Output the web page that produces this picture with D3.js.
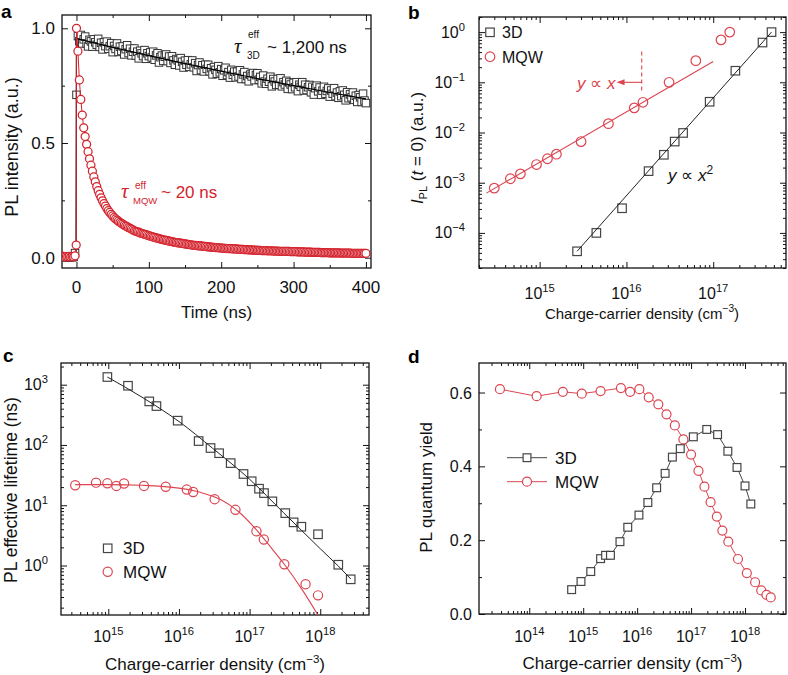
<!DOCTYPE html>
<html>
<head>
<meta charset="utf-8">
<script src="https://cdn.jsdelivr.net/npm/d3@7/dist/d3.min.js"></script>
<style>
  html,body{margin:0;padding:0;background:#fff;}
  svg{display:block;font-family:"Liberation Sans",Arial,Helvetica,sans-serif;}
</style>
</head>
<body>
<svg id="fig" width="788" height="675"></svg>
<script>
// ================= DATA =================
// Panel a: PL transients, sampled from -20 ns to 400 ns every 2 ns
const timeStart = -20;
const timeStep = 2;
const decay3D = [
 0.003,0.002,0.004,0.002,0.003,0.001,0.004,0.002,0.003,0.020,
 0.710,
 0.966,0.944,0.971,0.934,0.952,0.964,0.934,0.921,0.950,0.943,
 0.920,0.952,0.939,0.928,0.954,0.919,0.937,0.908,0.939,0.922,
 0.942,0.911,0.922,0.935,0.896,0.923,0.910,0.934,0.897,0.920,
 0.901,0.921,0.886,0.909,0.926,0.892,0.911,0.882,0.898,0.912,
 0.881,0.898,0.869,0.902,0.891,0.879,0.905,0.867,0.891,0.879,
 0.895,0.873,0.898,0.863,0.882,0.891,0.851,0.874,0.881,0.858,
 0.876,0.886,0.857,0.877,0.849,0.878,0.860,0.841,0.866,0.860,
 0.838,0.870,0.854,0.829,0.859,0.841,0.861,0.832,0.843,0.860,
 0.830,0.848,0.814,0.840,0.851,0.818,0.839,0.812,0.841,0.823,
 0.841,0.813,0.826,0.799,0.831,0.819,0.802,0.835,0.808,0.822,
 0.793,0.817,0.828,0.796,0.809,0.785,0.819,0.797,0.811,0.786,
 0.811,0.790,0.817,0.779,0.799,0.809,0.779,0.792,0.769,0.798,
 0.790,0.805,0.774,0.796,0.804,0.776,0.788,0.760,0.794,0.768,
 0.758,0.780,0.767,0.789,0.747,0.779,0.768,0.753,0.779,0.754,
 0.782,0.747,0.765,0.755,0.771,0.736,0.764,0.755,0.735,0.762,
 0.743,0.765,0.726,0.754,0.745,0.765,0.729,0.754,0.731,0.743,
 0.753,0.721,0.745,0.711,0.739,0.750,0.725,0.742,0.710,0.728,
 0.745,0.715,0.727,0.738,0.702,0.729,0.715,0.739,0.704,0.720,
 0.697,0.725,0.704,0.729,0.710,0.686,0.721,0.695,0.712,0.699,
 0.720,0.688,0.706,0.679,0.709,0.699,0.679,0.715,0.685,0.674
];
const decayMQW = [
 0.004,0.006,0.003,0.005,0.004,0.006,0.003,0.005,0.004,0.008,
 1.000,0.900,0.775,0.690,0.622,0.566,0.528,0.494,0.462,0.431,
 0.403,0.377,0.352,0.331,0.310,0.292,0.276,0.261,0.248,0.236,
 0.225,0.214,0.205,0.197,0.189,0.182,0.175,0.169,0.164,0.159,
 0.154,0.150,0.146,0.142,0.138,0.135,0.131,0.128,0.125,0.121,
 0.117,0.115,0.113,0.111,0.108,0.106,0.104,0.102,0.100,0.098,
 0.096,0.094,0.092,0.090,0.088,0.086,0.085,0.083,0.081,0.080,
 0.078,0.077,0.075,0.074,0.072,0.071,0.070,0.068,0.067,0.066,
 0.065,0.064,0.063,0.062,0.061,0.060,0.059,0.058,0.057,0.056,
 0.055,0.054,0.054,0.053,0.052,0.051,0.051,0.050,0.049,0.049,
 0.048,0.047,0.047,0.046,0.045,0.045,0.044,0.044,0.043,0.043,
 0.042,0.042,0.041,0.041,0.040,0.040,0.039,0.039,0.038,0.038,
 0.038,0.037,0.037,0.036,0.036,0.036,0.035,0.035,0.035,0.034,
 0.034,0.034,0.033,0.033,0.033,0.032,0.032,0.032,0.031,0.031,
 0.031,0.031,0.030,0.030,0.030,0.030,0.029,0.029,0.029,0.029,
 0.028,0.028,0.028,0.028,0.027,0.027,0.027,0.027,0.026,0.026,
 0.026,0.026,0.026,0.025,0.025,0.025,0.025,0.025,0.024,0.024,
 0.024,0.024,0.024,0.023,0.023,0.023,0.023,0.023,0.023,0.022,
 0.022,0.022,0.022,0.022,0.022,0.021,0.021,0.021,0.021,0.021,
 0.021,0.021,0.020,0.020,0.020,0.020,0.020,0.020,0.020,0.020,
 0.019,0.019,0.019,0.019,0.019,0.019,0.019,0.019,0.019,0.019,
 0.019
];
const riseMQWTime = [-0.4];
const riseMQWValue = [0.055];
const fit3DTime  = [-20, -0.6, 0, 50, 100, 150, 200, 250, 300, 350, 400];
const fit3DValue = [0.003, 0.003, 0.955, 0.917, 0.881, 0.846, 0.813, 0.781, 0.750, 0.720, 0.692];
const xTicksA = [0, 100, 200, 300, 400];
const xMinorA = [50, 150, 250, 350];
const yTicksA = [0, 0.5, 1.0];
const yMinorA = [0.25, 0.75];

// Panel b: initial PL intensity vs carrier density
const densityMQWb   = [3.0e14,4.6e14,6.0e14,9.2e14,1.23e15,1.56e15,3.0e15,6.2e15,1.23e16,1.55e16,3.1e16,6.3e16,1.23e17,1.55e17];
const intensityMQWb = [7.8e-4,1.2e-3,1.5e-3,2.3e-3,3.0e-3,3.7e-3,6.6e-3,1.5e-2,3.1e-2,4.0e-2,0.10,0.27,0.70,1.0];
const density3Db    = [2.7e15,4.5e15,8.9e15,1.8e16,2.7e16,3.6e16,4.5e16,9.1e16,1.8e17,3.7e17,4.7e17];
const intensity3Db  = [4.3e-5,1.0e-4,3.1e-4,1.7e-3,3.6e-3,6.6e-3,9.8e-3,0.041,0.17,0.62,1.0];
const fitMQWbX = [2.43e14, 1.0e17];
const fitMQWbY = [6.2e-4, 0.26];
const fit3DbX  = [2.7e15, 4.7e17];
const fit3DbY  = [4.3e-5, 1.0];
const xTicksB = [1e15, 1e16, 1e17];
const yTicksB = [1e-4, 1e-3, 1e-2, 1e-1, 1];
const markerLineB = 1.5e16;   // dashed boundary of the linear regime

// Panel c: effective PL lifetime vs carrier density
const density3Dc   = [9.7e14,1.9e15,3.8e15,4.8e15,9.6e15,1.9e16,2.8e16,3.7e16,5.4e16,8.2e16,1.07e17,1.36e17,1.6e17,2.1e17,3.2e17,4.2e17,5.4e17,9.3e17,1.8e18,2.7e18];
const lifetime3Dc  = [1340,960,528,442,253,116,89,73,50,33,25,18.8,15.9,11.6,7.4,5.2,4.4,3.3,1.03,0.59];
const densityMQWc  = [3.4e14,6.7e14,9.7e14,1.3e15,1.67e15,3.2e15,6.5e15,1.29e16,1.59e16,3.2e16,6.3e16,1.25e17,1.59e17,3.1e17,6.2e17,9.3e17];
const lifetimeMQWc = [21.5,23.7,23.1,20.9,22.9,20.9,20.3,18.2,16.6,12.6,8.4,3.7,2.7,1.05,0.49,0.32];
const fit3DcX  = [9.7e14,3e15,1e16,3e16,1e17,3e17,1e18,1.8e18,2.7e18];
const fit3DcY  = [1340,620,245,88,27,7.6,1.9,0.98,0.6];
const fitMQWcX = [3.4e14,1e15,3e15,1e16,2e16,4e16,7e16,1.25e17,2e17,3.1e17,5.6e17,9.3e17,1.3e18];
const fitMQWcY = [22.0,22.0,21.4,19.2,16.4,12.2,7.8,3.9,2.0,1.05,0.39,0.15,0.077];
const xTicksC = [1e15, 1e16, 1e17, 1e18];
const yTicksC = [1, 10, 100, 1000];

// Panel d: PL quantum yield vs carrier density
const densityMQWd = [2.86e13,1.37e14,4.2e14,9.4e14,2.1e15,5.0e15,7.4e15,1.1e16,1.64e16,2.47e16,3.5e16,5.0e16,7.2e16,1.0e17,1.37e17,1.77e17,2.3e17,3.0e17,3.8e17,4.9e17,7.4e17,1.08e18,1.54e18,2.0e18,2.5e18,3.0e18];
const yieldMQWd   = [0.609,0.590,0.602,0.597,0.604,0.612,0.602,0.609,0.587,0.568,0.541,0.511,0.473,0.432,0.388,0.345,0.303,0.264,0.226,0.196,0.149,0.111,0.086,0.064,0.052,0.045];
const density3Dd  = [6.1e14,9.1e14,1.38e15,2.1e15,2.6e15,3.2e15,4.8e15,6.7e15,1.08e16,1.58e16,2.3e16,3.3e16,4.5e16,6.3e16,1.1e17,1.95e17,3.1e17,4.8e17,7.1e17,1.0e18,1.28e18];
const yield3Dd    = [0.066,0.088,0.115,0.150,0.159,0.159,0.196,0.235,0.268,0.302,0.342,0.381,0.425,0.448,0.480,0.500,0.486,0.441,0.397,0.347,0.298];
const xTicksD = [1e14, 1e15, 1e16, 1e17, 1e18];
const yTicksD = [0, 0.2, 0.4, 0.6];
const yMinorD = [0.1, 0.3, 0.5];

// ================= DRAWING =================
const svg = d3.select('#fig');
const RED_A = '#d3232d';
const RED = '#dc4550';
const GREY = '#454545';
const INK = '#111';

let clipCount = 0;
function makePanel(L, T, R, B) {
  const w = R - L, h = B - T;
  const g = svg.append('g').attr('transform', `translate(${L},${T})`);
  const id = 'clip' + (clipCount++);
  svg.append('clipPath').attr('id', id).append('rect').attr('x', L).attr('y', T).attr('width', w).attr('height', h);
  const clipped = svg.append('g').attr('clip-path', `url(#${id})`).append('g').attr('transform', `translate(${L},${T})`);
  return {g, clipped, w, h, L, T, R, B};
}

function logTicks(scale) {
  const [a, b] = scale.domain();
  const major = [], minor = [];
  for (let e = Math.floor(Math.log10(a)); e <= Math.ceil(Math.log10(b)); e++) {
    for (let k = 1; k < 10; k++) {
      const v = k * Math.pow(10, e);
      if (v < a || v > b) continue;
      (k === 1 ? major : minor).push(v);
    }
  }
  return {major, minor};
}

function frame(P, x, y, xMaj, xMin, yMaj, yMin) {
  const {g, w, h} = P;
  const add = (fn, sc, vals, size, tr) => {
    const a = g.append('g').attr('transform', tr)
      .call(fn(sc).tickValues(vals).tickSize(size).tickSizeOuter(0).tickFormat(() => ''));
    a.select('.domain').remove();
    a.selectAll('line').attr('stroke', INK).attr('stroke-width', 1);
  };
  add(d3.axisBottom, x, xMaj, -6, `translate(0,${h})`);
  add(d3.axisBottom, x, xMin, -3, `translate(0,${h})`);
  add(d3.axisTop, x, xMaj, -6, 'translate(0,0)');
  add(d3.axisTop, x, xMin, -3, 'translate(0,0)');
  add(d3.axisLeft, y, yMaj, -6, 'translate(0,0)');
  add(d3.axisLeft, y, yMin, -3, 'translate(0,0)');
  add(d3.axisRight, y, yMaj, -6, `translate(${w},0)`);
  add(d3.axisRight, y, yMin, -3, `translate(${w},0)`);
  g.append('rect').attr('width', w).attr('height', h).attr('fill', 'none')
    .attr('stroke', INK).attr('stroke-width', 1.3);
}

function sup(e) { return e < 0 ? '\u2212' + (-e) : String(e); }
function logLabelsX(P, x, vals, base, size) {
  vals.forEach(v => {
    const e = Math.round(Math.log10(v));
    const t = svg.append('text').attr('x', P.L + x(v)).attr('y', base)
      .attr('text-anchor', 'middle').attr('font-size', size).attr('fill', INK);
    t.append('tspan').text('10');
    t.append('tspan').attr('dy', -7).attr('font-size', size * 0.7).text(sup(e));
  });
}
function logLabelsY(P, y, vals, right, size) {
  vals.forEach(v => {
    const e = Math.round(Math.log10(v));
    const t = svg.append('text').attr('x', right).attr('y', P.T + y(v) + 5.5)
      .attr('text-anchor', 'end').attr('font-size', size).attr('fill', INK);
    t.append('tspan').text('10');
    t.append('tspan').attr('dy', -7).attr('font-size', size * 0.7).text(sup(e));
  });
}
function densityTitle(cx, base, size) {
  const t = svg.append('text').attr('x', cx).attr('y', base).attr('text-anchor', 'middle')
    .attr('font-size', size).attr('fill', INK);
  t.append('tspan').text('Charge-carrier density (cm');
  t.append('tspan').attr('dy', -7).attr('font-size', size * 0.68).text('\u22123');
  t.append('tspan').attr('dy', 7).text(')');
}
function yTitle(x, cy, size) {
  return svg.append('text').attr('transform', `translate(${x},${cy}) rotate(-90)`)
    .attr('text-anchor', 'middle').attr('font-size', size).attr('fill', INK);
}
function panelLetter(txt, x, y) {
  svg.append('text').attr('x', x).attr('y', y).attr('font-size', 19).attr('font-weight', 'bold')
    .attr('fill', '#000').text(txt);
}
function squares(sel, pts, x, y, s, fill, stroke, sw) {
  sel.append('g').selectAll('rect').data(pts).join('rect')
    .attr('x', d => x(d[0]) - s / 2).attr('y', d => y(d[1]) - s / 2)
    .attr('width', s).attr('height', s)
    .attr('fill', fill).attr('stroke', stroke).attr('stroke-width', sw);
}
function circles(sel, pts, x, y, r, fill, stroke, sw) {
  sel.append('g').selectAll('circle').data(pts).join('circle')
    .attr('cx', d => x(d[0])).attr('cy', d => y(d[1])).attr('r', r)
    .attr('fill', fill).attr('stroke', stroke).attr('stroke-width', sw);
}
const zip = (a, b) => a.map((v, i) => [v, b[i]]);

// ---------- Panel a ----------
{
  const P = makePanel(62, 15, 371, 268);
  const x = d3.scaleLinear().domain([-20, 407]).range([0, P.w]);
  const y = d3.scaleLinear().domain([-0.045, 1.058]).range([P.h, 0]);
  const pts3D = decay3D.map((v, i) => [timeStart + i * timeStep, v]);
  const ptsMQW = decayMQW.map((v, i) => [timeStart + i * timeStep, v]);
  const rise = zip(riseMQWTime, riseMQWValue);
  const line = d3.line().x(d => x(d[0])).y(d => y(d[1]));

  squares(P.clipped, pts3D, x, y, 7.5, '#fff', '#333', 1);
  P.clipped.append('path').attr('d', line(zip(fit3DTime, fit3DValue)))
    .attr('fill', 'none').attr('stroke', '#000').attr('stroke-width', 1.2);
  const mqwAll = ptsMQW.slice(0, 10).concat(rise, ptsMQW.slice(10));
  P.clipped.append('path').attr('d', line(mqwAll))
    .attr('fill', 'none').attr('stroke', RED_A).attr('stroke-width', 1);
  circles(P.clipped, mqwAll, x, y, 4, '#fff', RED_A, 1.25);

  frame(P, x, y, xTicksA, xMinorA, yTicksA, yMinorA);

  xTicksA.forEach(v => svg.append('text').attr('x', P.L + x(v)).attr('y', 293)
    .attr('text-anchor', 'middle').attr('font-size', 17).attr('fill', INK).text(v));
  yTicksA.forEach(v => svg.append('text').attr('x', 55).attr('y', P.T + y(v) + 6)
    .attr('text-anchor', 'end').attr('font-size', 17).attr('fill', INK).text(d3.format('.1f')(v)));
  svg.append('text').attr('x', 216.5).attr('y', 318).attr('text-anchor', 'middle')
    .attr('font-size', 17).attr('fill', INK).text('Time (ns)');
  yTitle(18, 147, 18).text('PL intensity (a.u.)');

  // annotations
  const a1 = svg.append('g').attr('fill', INK);
  a1.append('text').attr('x', 234).attr('y', 53).attr('font-family', '"Liberation Serif",serif')
    .attr('font-style', 'italic').attr('font-size', 21).text('\u03C4');
  a1.append('text').attr('x', 248).attr('y', 38).attr('font-size', 10).text('eff');
  a1.append('text').attr('x', 247).attr('y', 59).attr('font-size', 10).text('3D');
  a1.append('text').attr('x', 267).attr('y', 53).attr('font-size', 17).text('~ 1,200 ns');
  const a2 = svg.append('g').attr('fill', RED_A);
  a2.append('text').attr('x', 121).attr('y', 198).attr('font-family', '"Liberation Serif",serif')
    .attr('font-style', 'italic').attr('font-size', 21).text('\u03C4');
  a2.append('text').attr('x', 135).attr('y', 189).attr('font-size', 10).text('eff');
  a2.append('text').attr('x', 133).attr('y', 204).attr('font-size', 9.5).text('MQW');
  a2.append('text').attr('x', 161).attr('y', 198).attr('font-size', 17).text('~ 20 ns');
  panelLetter('a', 1, 18);
}

// ---------- Panel b ----------
{
  const P = makePanel(479, 17, 786, 268);
  const x = d3.scaleLog().domain([2.0e14, 6.9e17]).range([0, P.w]);
  const y = d3.scaleLog().domain([2.0e-5, 2.0]).range([P.h, 0]);
  const line = d3.line().x(d => x(d[0])).y(d => y(d[1]));
  P.clipped.append('path').attr('d', line(zip(fitMQWbX, fitMQWbY)))
    .attr('fill', 'none').attr('stroke', RED).attr('stroke-width', 1.1);
  P.clipped.append('path').attr('d', line(zip(fit3DbX, fit3DbY)))
    .attr('fill', 'none').attr('stroke', '#222').attr('stroke-width', 1);
  squares(P.g, zip(density3Db, intensity3Db), x, y, 8.5, 'none', GREY, 1.2);
  circles(P.g, zip(densityMQWb, intensityMQWb), x, y, 4.8, 'none', RED, 1.2);

  // dashed boundary and arrow
  P.g.append('line').attr('x1', x(markerLineB)).attr('x2', x(markerLineB))
    .attr('y1', y(0.41)).attr('y2', y(0.065))
    .attr('stroke', RED).attr('stroke-width', 1.1).attr('stroke-dasharray', '4,3');
  const ax0 = x(markerLineB), ax1 = x(7.7e15), ay = y(0.1);
  P.g.append('line').attr('x1', ax0).attr('x2', ax1 + 6).attr('y1', ay).attr('y2', ay)
    .attr('stroke', RED).attr('stroke-width', 1.1);
  P.g.append('path').attr('d', `M${ax1},${ay} L${ax1 + 8},${ay - 3} L${ax1 + 8},${ay + 3} Z`).attr('fill', RED);

  frame(P, x, y, logTicks(x).major, logTicks(x).minor, logTicks(y).major, logTicks(y).minor);
  logLabelsX(P, x, xTicksB, 299, 16);
  logLabelsY(P, y, yTicksB, 465, 16);
  densityTitle(642, 319, 15);
  const yt = yTitle(423, 148, 17);
  yt.append('tspan').attr('font-style', 'italic').text('I');
  yt.append('tspan').attr('dy', 4).attr('font-size', 11).text('PL');
  yt.append('tspan').attr('dy', -4).text(' (');
  yt.append('tspan').attr('font-style', 'italic').text('t');
  yt.append('tspan').text(' = 0) (a.u.)');

  // legend
  squares(svg, [[490, 32.3]], v => v, v => v, 8.5, 'none', GREY, 1.2);
  svg.append('text').attr('x', 502).attr('y', 38).attr('font-size', 16).attr('fill', INK).text('3D');
  circles(svg, [[490, 56.7]], v => v, v => v, 4.8, 'none', RED, 1.2);
  svg.append('text').attr('x', 502).attr('y', 63).attr('font-size', 16).attr('fill', INK).text('MQW');

  const t1 = svg.append('text').attr('x', 577).attr('y', 89).attr('font-size', 17).attr('fill', RED);
  t1.append('tspan').attr('font-style', 'italic').text('y');
  t1.append('tspan').text(' \u221D ');
  t1.append('tspan').attr('font-style', 'italic').text('x');
  const t2 = svg.append('text').attr('x', 668).attr('y', 181).attr('font-size', 17).attr('fill', INK);
  t2.append('tspan').attr('font-style', 'italic').text('y');
  t2.append('tspan').text(' \u221D ');
  t2.append('tspan').attr('font-style', 'italic').text('x');
  t2.append('tspan').attr('dy', -7).attr('font-size', 12).text('2');
  panelLetter('b', 408, 19);
}

// ---------- Panel c ----------
{
  const P = makePanel(61, 363, 369, 615);
  const x = d3.scaleLog().domain([2.14e14, 4.9e18]).range([0, P.w]);
  const y = d3.scaleLog().domain([0.151, 2290]).range([P.h, 0]);
  const line = d3.line().x(d => x(d[0])).y(d => y(d[1])).curve(d3.curveMonotoneX);
  P.clipped.append('path').attr('d', line(zip(fit3DcX, fit3DcY)))
    .attr('fill', 'none').attr('stroke', '#222').attr('stroke-width', 1);
  P.clipped.append('path').attr('d', line(zip(fitMQWcX, fitMQWcY)))
    .attr('fill', 'none').attr('stroke', RED).attr('stroke-width', 1.1);
  squares(P.g, zip(density3Dc, lifetime3Dc), x, y, 8.5, 'none', GREY, 1.2);
  circles(P.g, zip(densityMQWc, lifetimeMQWc), x, y, 4.6, 'none', RED, 1.2);

  frame(P, x, y, logTicks(x).major, logTicks(x).minor, logTicks(y).major, logTicks(y).minor);
  logLabelsX(P, x, xTicksC, 641.5, 16);
  logLabelsY(P, y, yTicksC, 48, 16);
  densityTitle(215, 670, 17);
  yTitle(17, 490, 17.5).text('PL effective lifetime (ns)');

  squares(svg, [[107.7, 548.3]], v => v, v => v, 8.5, 'none', GREY, 1.2);
  svg.append('text').attr('x', 123).attr('y', 554).attr('font-size', 17).attr('fill', INK).text('3D');
  circles(svg, [[107.7, 571.7]], v => v, v => v, 4.6, 'none', RED, 1.2);
  svg.append('text').attr('x', 123).attr('y', 577.5).attr('font-size', 17).attr('fill', INK).text('MQW');
  panelLetter('c', 3, 362);
}

// ---------- Panel d ----------
{
  const P = makePanel(479, 363, 786, 614);
  const x = d3.scaleLog().domain([1.17e13, 5.75e18]).range([0, P.w]);
  const y = d3.scaleLinear().domain([0, 0.68]).range([P.h, 0]);
  const line = d3.line().x(d => x(d[0])).y(d => y(d[1]));
  P.g.append('path').attr('d', line(zip(density3Dd, yield3Dd)))
    .attr('fill', 'none').attr('stroke', GREY).attr('stroke-width', 1);
  P.g.append('path').attr('d', line(zip(densityMQWd, yieldMQWd)))
    .attr('fill', 'none').attr('stroke', RED).attr('stroke-width', 1);
  squares(P.g, zip(density3Dd, yield3Dd), x, y, 7.8, '#fff', GREY, 1.2);
  circles(P.g, zip(densityMQWd, yieldMQWd), x, y, 4.5, '#fff', RED, 1.2);

  frame(P, x, y, logTicks(x).major, logTicks(x).minor, yTicksD, yMinorD);
  logLabelsX(P, x, xTicksD, 641.5, 16);
  yTicksD.forEach(v => svg.append('text').attr('x', 472).attr('y', P.T + y(v) + 6)
    .attr('text-anchor', 'end').attr('font-size', 16).attr('fill', INK).text(d3.format('.1f')(v)));
  densityTitle(632.5, 669, 17);
  yTitle(432, 487.5, 17).text('PL quantum yield');

  // legend
  svg.append('line').attr('x1', 507).attr('x2', 547).attr('y1', 457.7).attr('y2', 457.7)
    .attr('stroke', GREY).attr('stroke-width', 1);
  squares(svg, [[527, 457.7]], v => v, v => v, 7.8, '#fff', GREY, 1.2);
  svg.append('text').attr('x', 555).attr('y', 463.5).attr('font-size', 17).attr('fill', INK).text('3D');
  svg.append('line').attr('x1', 507).attr('x2', 547).attr('y1', 481.7).attr('y2', 481.7)
    .attr('stroke', RED).attr('stroke-width', 1);
  circles(svg, [[527, 481.7]], v => v, v => v, 4.5, '#fff', RED, 1.2);
  svg.append('text').attr('x', 555).attr('y', 487.5).attr('font-size', 17).attr('fill', INK).text('MQW');
  panelLetter('d', 408, 363);
}
</script>
</body>
</html>
